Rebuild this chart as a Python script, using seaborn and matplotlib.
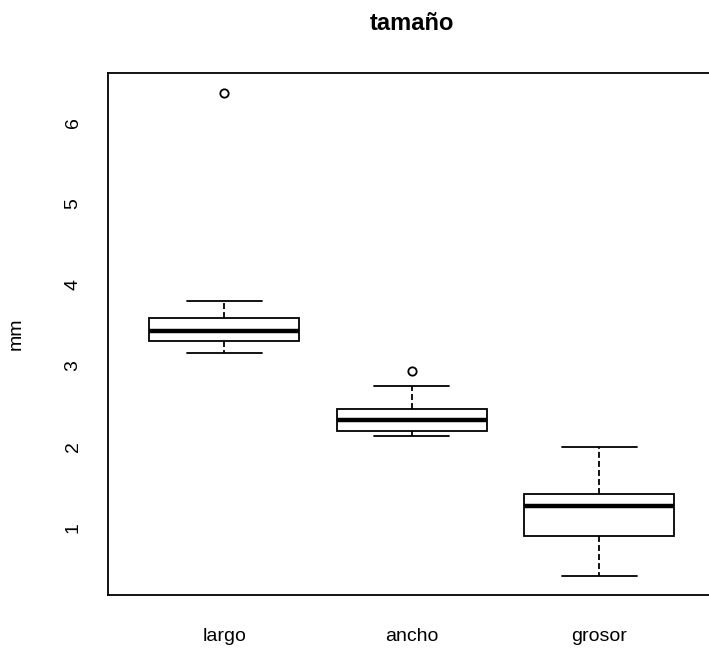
import pandas as pd
import matplotlib
matplotlib.use("Agg")
import matplotlib.pyplot as plt
import seaborn as sns

categorias = ["largo", "ancho", "grosor"]
largo = [3.15, 3.22, 3.30, 3.38, 3.43, 3.52, 3.59, 3.80, 6.37]
ancho = [2.13, 2.16, 2.19, 2.26, 2.33, 2.40, 2.46, 2.75, 2.93]
grosor = [0.40, 0.70, 0.89, 1.10, 1.26, 1.35, 1.41, 1.70, 1.99]
y_ticks = [1, 2, 3, 4, 5, 6]

df = pd.DataFrame({
    "variable": ["largo"] * len(largo) + ["ancho"] * len(ancho) + ["grosor"] * len(grosor),
    "mm": largo + ancho + grosor,
})

sns.set_style("white")
plt.rcParams["font.family"] = ["Liberation Sans", "DejaVu Sans"]
plt.rcParams["text.color"] = "black"
plt.rcParams["axes.labelcolor"] = "black"

fig = plt.figure(figsize=(7.09, 6.53), dpi=100)
ax = fig.add_axes([0.1523, 0.0888, 0.8568, 0.7988])

lw = 1.3
sns.boxplot(
    data=df, x="variable", y="mm", order=categorias, ax=ax,
    color="white", linecolor="black", linewidth=lw, width=0.8, whis=1.5,
    medianprops=dict(linewidth=3.2, color="black"),
    whiskerprops=dict(linestyle=(0, (3.3, 1.7)), linewidth=lw, color="black"),
    capprops=dict(linewidth=lw, color="black"),
    flierprops=dict(marker="o", markerfacecolor="none", markeredgecolor="black",
                    markersize=6, markeredgewidth=lw),
)

ax.set_xlim(-0.62, 2.62)
ax.set_ylim(0.161, 6.609)
ax.set_yticks(y_ticks)
ax.set_yticklabels([str(t) for t in y_ticks], rotation=90, va="center")

for s in ax.spines.values():
    s.set_visible(True)
    s.set_color("black")
    s.set_linewidth(lw)

ax.tick_params(axis="both", direction="out", length=8, width=lw, colors="#222222",
               labelcolor="black", labelsize=14)
ax.tick_params(axis="x", pad=15.5)
ax.tick_params(axis="y", pad=11)

ax.set_xlabel("")
ax.set_ylabel("mm", fontsize=14, color="black")
ax.yaxis.set_label_coords(-0.137, 0.5)
ax.set_title("tamaño", fontsize=17, fontweight="bold", pad=31, color="black")

plt.savefig("out.png", dpi=100)
